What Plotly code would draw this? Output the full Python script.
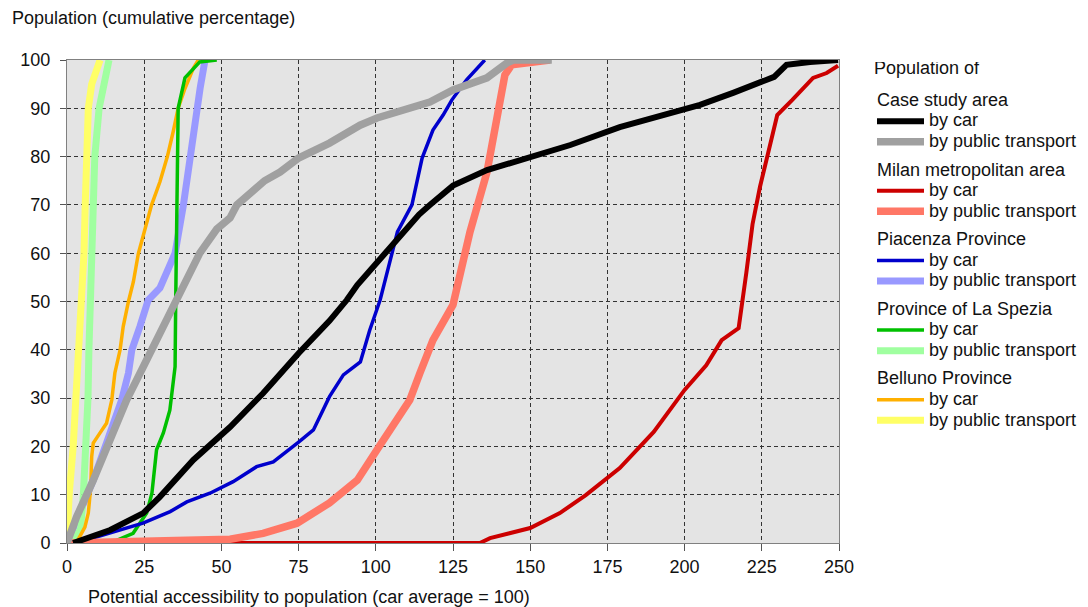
"""
Cumulative population by potential accessibility, car vs public transport.
"""

import plotly.graph_objects as go

# Case study area
case_car_x = [2, 14, 24.7, 30, 40.9, 52.8, 63.5, 75, 85, 90.6, 94, 100.4, 107, 114, 117.5,
              125, 136, 150, 163, 179, 190, 205, 215.7, 224.4, 229, 233, 240.6, 249.7]
case_car_y = [0, 2.7, 6.2, 9.5, 17.2, 24, 31, 39.3, 46, 50.3, 53.4, 58, 63, 68, 70,
              74, 77.2, 80, 82.4, 86.1, 88, 90.7, 93.2, 95.4, 96.5, 99, 99.6, 100]
case_pt_x = [0, 3.1, 8.5, 13.9, 19.3, 24.7, 30.1, 35.5, 38.8, 43, 48.5, 52.8, 55, 64, 69, 75,
             85, 94.9, 100.4, 114, 117.5, 125, 136, 142.5, 144.5, 157]
case_pt_y = [0, 5.4, 13, 21.3, 29.6, 36.5, 43.5, 50.3, 55, 60, 65, 67.3, 70, 75, 76.8, 79.7,
             82.8, 86.5, 88, 90.7, 91.3, 93.8, 96.3, 99.4, 100, 100]

# Milan metropolitan area
milan_car_x = [0, 133.7, 137, 150, 159.6, 168, 179, 190, 200, 207, 212, 217.5, 220, 222,
               224.4, 227, 230, 234.8, 238, 241.6, 246, 249.7]
milan_car_y = [0, 0, 1, 3.1, 6.2, 9.9, 15.5, 23, 31.7, 36.8, 42, 44.5, 56, 66,
               73.7, 80.3, 88.6, 91.7, 94, 96.3, 97.3, 98.8]
milan_pt_x = [0, 20, 52.8, 63.5, 74.5, 85, 94, 100.4, 107, 111, 114.3, 118.5, 125, 130.5,
              136, 139, 141.8, 144, 150, 156.4]
milan_pt_y = [0, 0.3, 0.8, 2, 4.1, 8.3, 13, 19.3, 25.9, 29.6, 35.2, 42, 49.3, 64.4,
              76.8, 86.5, 96.9, 99, 99.6, 100]

# Piacenza Province
piac_car_x = [3, 14, 24.6, 33.4, 38.8, 46.3, 53.8, 61.4, 66.8, 75, 79.8, 85, 89.5, 95, 98,
              101.4, 107, 111.7, 115, 118.5, 121.8, 124.6, 129.4, 135.3]
piac_car_y = [0, 2, 4.1, 6.5, 8.5, 10.3, 12.7, 15.8, 16.8, 20.9, 23.4, 30.3, 34.8, 37.5, 44,
              50.3, 64.4, 70, 79.7, 85.5, 88.6, 91.7, 95.9, 100]
piac_pt_x = [0, 4.2, 8.5, 12.8, 15, 17.7, 19.9, 21, 23.6, 26.3, 30.1, 32.8, 35, 37.7, 39.8,
             42, 43.1, 44.7]
piac_pt_y = [0, 6.2, 13, 20.7, 24.8, 29.6, 35.2, 40, 44.8, 50.3, 52.8, 57, 60, 70, 80,
             90, 94.1, 100]

# Province of La Spezia
spezia_car_x = [14, 21.4, 25.8, 27.5, 29, 31.2, 33.3, 35, 35.2, 35.5, 36, 38.2, 40.9, 43, 48.5]
spezia_car_y = [0, 2, 6.2, 10.3, 19.3, 22.8, 27.5, 36.5, 50, 70, 90, 96.3, 98.3, 99.6, 100]
spezia_pt_x = [2, 4.4, 5.3, 6.2, 6.8, 7.1, 7.7, 8.1, 8.4, 9, 10.4, 13.6]
spezia_pt_y = [0, 3, 10, 20, 30, 40, 50, 60, 70, 80, 90, 100]

# Belluno Province
bell_car_x = [3, 5.8, 6.9, 7.7, 8, 8.5, 10.7, 12.8, 14.5, 15.5, 17.2, 18.2, 19.9, 21.5, 23.1,
              25.3, 27.4, 30.1, 32.5, 34.4, 36, 38.2, 40.9, 42.5]
bell_car_y = [0, 3.3, 6.2, 11.6, 17.9, 20.7, 22.8, 24.8, 29.6, 35.2, 40, 44.8, 50, 54.1, 59.9,
              65.2, 70, 74.8, 80, 85.2, 90, 94.1, 98.3, 100]
bell_pt_x = [0, 0.7, 2, 2.9, 3.9, 4.9, 5.5, 5.9, 6.3, 6.9, 8, 10.7]
bell_pt_y = [0, 10, 20, 30, 40, 50, 60, 70, 80, 90, 95, 100]

# (group, label, x, y, colour, width, legend rank) in drawing order
series = [
    ('Piacenza Province', 'by public transport', piac_pt_x, piac_pt_y, '#9999ff', 7, 32),
    ('Province of La Spezia', 'by public transport', spezia_pt_x, spezia_pt_y, '#a0ffa0', 7, 42),
    ('Belluno Province', 'by public transport', bell_pt_x, bell_pt_y, '#ffff66', 7, 52),
    ('Belluno Province', 'by car', bell_car_x, bell_car_y, '#ffb000', 3.5, 51),
    ('Province of La Spezia', 'by car', spezia_car_x, spezia_car_y, '#00c000', 3.5, 41),
    ('Piacenza Province', 'by car', piac_car_x, piac_car_y, '#0000cc', 3.5, 31),
    ('Milan metropolitan area', 'by car', milan_car_x, milan_car_y, '#cc0000', 4, 21),
    ('Milan metropolitan area', 'by public transport', milan_pt_x, milan_pt_y, '#ff7766', 7.5, 22),
    ('Case study area', 'by car', case_car_x, case_car_y, '#000000', 6, 11),
    ('Case study area', 'by public transport', case_pt_x, case_pt_y, '#a0a0a0', 7.5, 12),
]

FONT = 'Liberation Sans, Arial, sans-serif'


def big(text):
    # legend rows are sized from the legend font, the text itself is drawn larger
    return '<span style="font-size:18px">' + text + '</span>'


fig = go.Figure()
for group, label, xs, ys, colour, width, rank in series:
    fig.add_trace(go.Scatter(
        x=xs, y=ys, mode='lines', name=big(label),
        line=dict(color=colour, width=width),
        legendgroup=group, legendgrouptitle_text=big(group),
        legendrank=rank,
    ))

# the page body adds 8px of margin, so the figure is 8px smaller than the window
fig.update_layout(
    width=1080, height=599,
    margin=dict(l=59, r=249, t=52, b=64, autoexpand=False),
    paper_bgcolor='white', plot_bgcolor='#e4e4e4',
    font=dict(family=FONT, size=18, color='#111111'),
    showlegend=True,
    legend=dict(
        title=dict(text=big('Population of') + '<br> ', font=dict(size=9)),
        xref='container', yref='container', x=0.8, y=0.91,
        xanchor='left', yanchor='top',
        traceorder='grouped', tracegroupgap=8,
        bgcolor='rgba(0,0,0,0)', itemwidth=47, maxheight=590,
        grouptitlefont=dict(size=13.5),
        font=dict(size=13.5),
    ),
)

fig.update_xaxes(
    range=[0, 250], tickvals=list(range(0, 251, 25)), automargin=False,
    showgrid=True, gridcolor='#333333', griddash='4px,3px', gridwidth=1,
    showline=True, linecolor='#808080', linewidth=1, mirror=True,
    ticks='outside', ticklen=7, tickcolor='#555555',
    zeroline=False,
)
fig.update_yaxes(
    range=[0, 100], tickvals=list(range(0, 101, 10)), automargin=False,
    showgrid=True, gridcolor='#333333', griddash='4px,3px', gridwidth=1,
    showline=True, linecolor='#808080', linewidth=1, mirror=True,
    ticks='outside', ticklen=6, tickcolor='#555555', ticklabelstandoff=6,
    zeroline=False,
)

fig.add_annotation(
    text='Population (cumulative percentage)', xref='paper', yref='paper',
    x=-57 / 772, y=1 + 42 / 483, xanchor='left', yanchor='middle',
    showarrow=False, font=dict(size=18),
)
fig.add_annotation(
    text='Potential accessibility to population (car average = 100)', xref='paper', yref='paper',
    x=19 / 772, y=-54 / 483, xanchor='left', yanchor='middle',
    showarrow=False, font=dict(size=18),
)

fig.write_html("out.html")
